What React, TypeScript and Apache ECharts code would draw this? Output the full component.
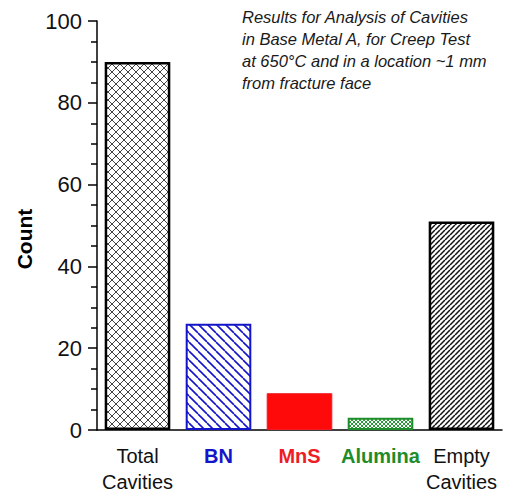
import React, { useEffect, useRef } from "react";
import * as echarts from "echarts";

const categories = ["Total\nCavities", "BN", "MnS", "Alumina", "Empty\nCavities"];
const counts = [90, 26, 9, 3, 51];
const labelColors = ["#111111", "#1414c8", "#ee1c24", "#1e8c2a", "#111111"];
const labelBold = [false, true, true, true, false];
const yTicks = [0, 20, 40, 60, 80, 100];
const yTitle = "Count";
const noteLines = [
  "Results for Analysis of Cavities",
  "in Base Metal A, for Creep Test",
  "at 650\u00B0C and in a location ~1 mm",
  "from fracture face",
];

const FONT = "'Liberation Sans', Arial, sans-serif";

function hatch(size: number, color: string, width: number, dirs: string[]): string {
  const c = document.createElement("canvas");
  c.width = size;
  c.height = size;
  const ctx = c.getContext("2d")!;
  ctx.fillStyle = "#ffffff";
  ctx.fillRect(0, 0, size, size);
  ctx.strokeStyle = color;
  ctx.lineWidth = width;
  for (const d of dirs) {
    for (const off of [-size, 0, size]) {
      ctx.beginPath();
      if (d === "/") {
        ctx.moveTo(off, size);
        ctx.lineTo(off + size, 0);
      } else {
        ctx.moveTo(off, 0);
        ctx.lineTo(off + size, size);
      }
      ctx.stroke();
    }
  }
  return c.toDataURL();
}

export default function App() {
  const ref = useRef<HTMLDivElement>(null);
  useEffect(() => {
    if (!ref.current) return;
    const chart = echarts.init(ref.current, undefined, { renderer: "svg" });
    const styles = [
      { color: { image: hatch(8, "#444444", 1, ["/", "\\"]), repeat: "repeat" }, borderColor: "#000", borderWidth: 2.5 },
      { color: { image: hatch(9, "#1414c8", 1.6, ["\\"]), repeat: "repeat" }, borderColor: "#1414c8", borderWidth: 2 },
      { color: "#ff0a0a", borderColor: "#ee1c24", borderWidth: 1 },
      { color: { image: hatch(4, "#2a9a3a", 1, ["/", "\\"]), repeat: "repeat" }, borderColor: "#1e8c2a", borderWidth: 2 },
      { color: { image: hatch(5, "#111111", 1.5, ["/"]), repeat: "repeat" }, borderColor: "#000", borderWidth: 2.5 },
    ];
    const option: any = {
      animation: false,
      grid: { left: 97, right: 11, top: 21, bottom: 64 },
      xAxis: {
        type: "category",
        data: categories.map((c, i) => ({
          value: c,
          textStyle: {
            color: labelColors[i],
            fontWeight: labelBold[i] ? "bold" : "normal",
          },
        })),
        axisLine: { lineStyle: { color: "#000", width: 1.5 } },
        axisTick: { alignWithLabel: true, length: 6, lineStyle: { color: "#000", width: 1.5 } },
        axisLabel: { fontSize: 20, fontFamily: FONT, margin: 13, lineHeight: 26, interval: 0 },
      },
      yAxis: {
        type: "value",
        min: yTicks[0],
        max: yTicks[yTicks.length - 1],
        interval: 20,
        axisLine: { show: true, lineStyle: { color: "#000", width: 1.5 } },
        axisTick: { show: true, length: 9, lineStyle: { color: "#000", width: 1.5 } },
        minorTick: { show: true, splitNumber: 4, length: 6, lineStyle: { color: "#000", width: 1.5 } },
        splitLine: { show: false },
        axisLabel: { fontSize: 22, color: "#111", fontFamily: FONT, margin: 15 },
      },
      series: [
        {
          type: "bar",
          barWidth: "81%",
          data: counts.map((v, i) => ({ value: v, itemStyle: styles[i] })),
        },
      ],
      graphic: [
        {
          type: "text",
          left: 242,
          top: 6,
          style: {
            text: noteLines.join("\n"),
            font: `italic 16.5px ${FONT}`,
            lineHeight: 22,
            fill: "#1a1a1a",
          },
        },
        {
          type: "text",
          x: 24,
          y: 239,
          rotation: Math.PI / 2,
          style: {
            text: yTitle,
            font: `bold 21px ${FONT}`,
            fill: "#000",
            align: "center",
            verticalAlign: "middle",
          },
        },
      ],
    };
    chart.setOption(option);
    return () => chart.dispose();
  }, []);
  return <div ref={ref} style={{ width: 513, height: 495, position: "absolute", left: 0, top: 0, background: "#fff" }} />;
}
